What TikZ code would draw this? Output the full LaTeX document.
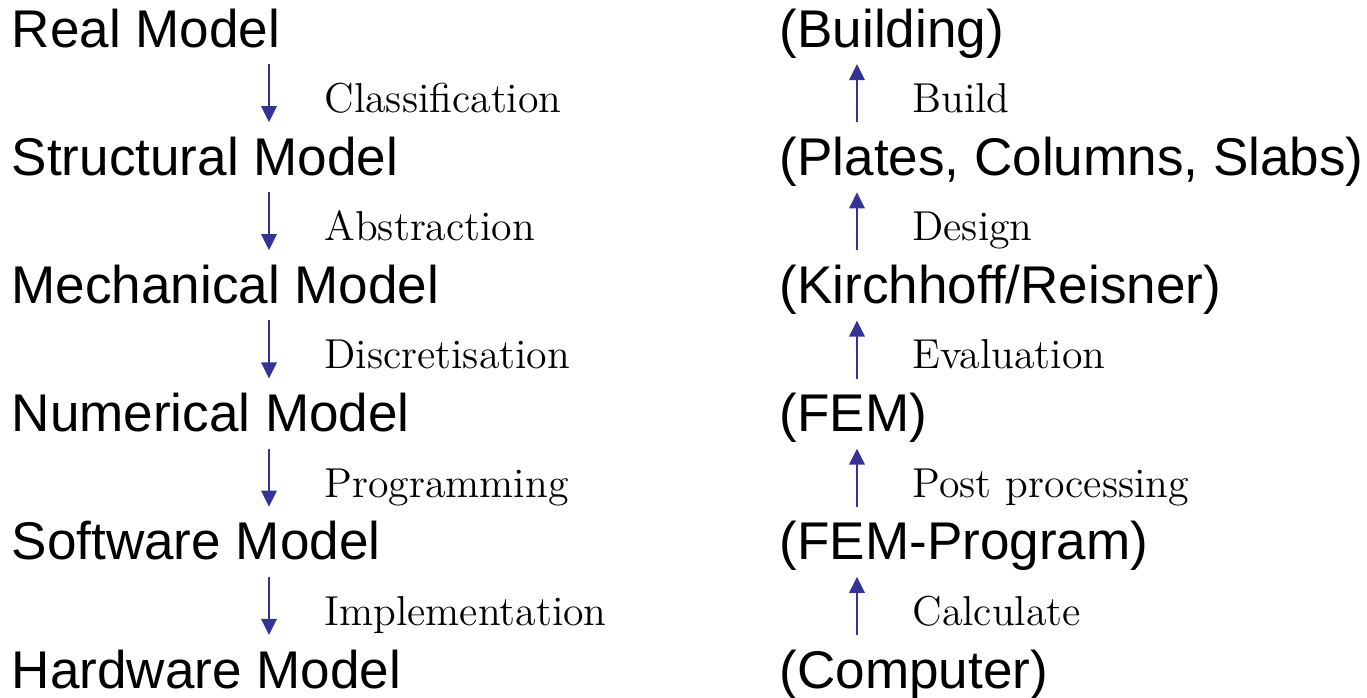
\documentclass[tikz,border=0pt]{standalone}
\usepackage{fontspec}
\newfontfamily\modelfont{Liberation Sans}
\usetikzlibrary{positioning, arrows.meta}
\definecolor{arrowblue}{RGB}{51,51,153}

\begin{document}
\begin{tikzpicture}[
    >={Triangle[width=4.3pt, length=4.6pt]},
    model/.style={anchor=base west, inner sep=0, font=\modelfont\fontsize{15.1}{18}\selectfont, text height=10.9pt, text depth=3.2pt},
    flow/.style={->, draw=arrowblue, line width=0.85pt, shorten <=0.05cm, shorten >=0.14cm},
    steplabel/.style={midway, anchor=base west, inner sep=0, xshift=0.54cm, yshift=-0.15cm, font=\fontsize{11.9}{14}\selectfont}
]

\useasboundingbox (0,0) rectangle (13.67,-6.98);

% lanes for the arrows
\coordinate (leftlane) at (2.69, 0);
\coordinate (rightlane) at (8.57, 0);

% Left column: models
\node[model] (real) at (0.11, -0.47) {Real Model};
\node[model] (structural) at (0.11, -1.752) {Structural Model};
\node[model] (mechanical) at (0.11, -3.034) {Mechanical Model};
\node[model] (numerical) at (0.11, -4.316) {Numerical Model};
\node[model] (software) at (0.11, -5.598) {Software Model};
\node[model] (hardware) at (0.11, -6.88) {Hardware Model};

% Right column: examples
\node[model] (building) at (7.79, -0.47) {(Building)};
\node[model] (plates) at (7.79, -1.752) {(Plates, Columns, Slabs)};
\node[model] (kirchhoff) at (7.79, -3.034) {(Kirchhoff/Reisner)};
\node[model] (fem) at (7.79, -4.316) {(FEM)};
\node[model] (femprog) at (7.79, -5.598) {(FEM-Program)};
\node[model] (computer) at (7.79, -6.88) {(Computer)};

\draw[flow] (real.south -| leftlane) -- (structural.north -| leftlane) node[steplabel] {Classification};
\draw[flow] (structural.south -| leftlane) -- (mechanical.north -| leftlane) node[steplabel] {Abstraction};
\draw[flow] (mechanical.south -| leftlane) -- (numerical.north -| leftlane) node[steplabel] {Discretisation};
\draw[flow] (numerical.south -| leftlane) -- (software.north -| leftlane) node[steplabel] {Programming};
\draw[flow] (software.south -| leftlane) -- (hardware.north -| leftlane) node[steplabel] {Implementation};

\draw[flow, shorten <=0.14cm, shorten >=0.05cm] (plates.north -| rightlane) -- (building.south -| rightlane) node[steplabel] {Build};
\draw[flow, shorten <=0.14cm, shorten >=0.05cm] (kirchhoff.north -| rightlane) -- (plates.south -| rightlane) node[steplabel] {Design};
\draw[flow, shorten <=0.14cm, shorten >=0.05cm] (fem.north -| rightlane) -- (kirchhoff.south -| rightlane) node[steplabel] {Evaluation};
\draw[flow, shorten <=0.14cm, shorten >=0.05cm] (femprog.north -| rightlane) -- (fem.south -| rightlane) node[steplabel] {Post processing};
\draw[flow, shorten <=0.14cm, shorten >=0.05cm] (computer.north -| rightlane) -- (femprog.south -| rightlane) node[steplabel] {Calculate};

\end{tikzpicture}
\end{document}
